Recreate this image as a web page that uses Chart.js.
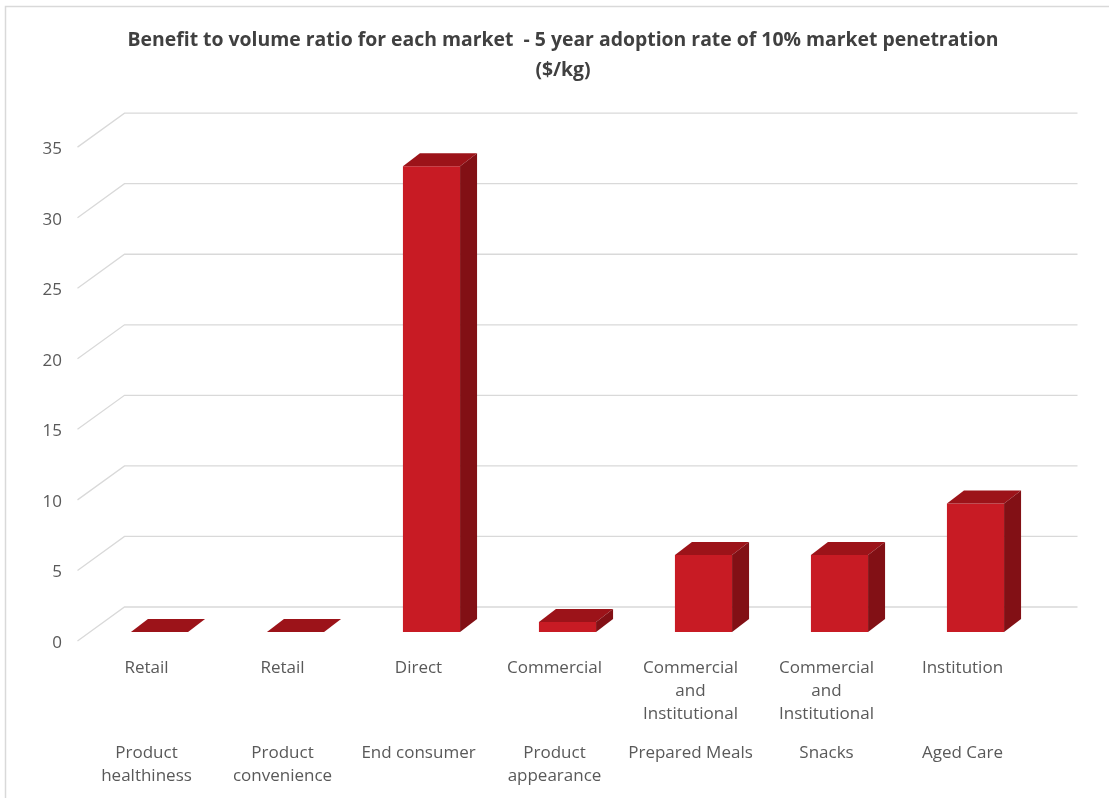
<!DOCTYPE html>
<html>
<head>
<meta charset="utf-8">
<script src="https://cdn.jsdelivr.net/npm/chart.js@4.4.1/dist/chart.umd.min.js"></script>
<style>
  html, body { margin: 0; padding: 0; background: #fff; }
  #wrap { width: 1109px; height: 798px; position: relative; }
</style>
</head>
<body>
<div id="wrap"><canvas id="chart" width="1109" height="798"></canvas></div>
<script>
// channel (first row of the category axis)
const channels = [
	["Retail"], ["Retail"], ["Direct"], ["Commercial"],
	["Commercial", "and", "Institutional"], ["Commercial", "and", "Institutional"], ["Institution"]
];
// market (second row of the category axis)
const markets = [
	["Product", "healthiness"], ["Product", "convenience"], ["End consumer"], ["Product", "appearance"],
	["Prepared Meals"], ["Snacks"], ["Aged Care"]
];
// benefit to volume ratio, $/kg
const ratios = [0, 0, 33, 0.7, 5.45, 5.45, 9.1];
const yMin = 0, yMax = 35, yStep = 5;

const titleLines = [
	"Benefit to volume ratio for each market  - 5 year adoption rate of 10% market penetration",
	"($/kg)"
];

// oblique projection offsets, relative to the bar front plane
const FRONT = { dx: -14, dy: 9 };   // front edge of floor / left wall
const BACK = { dx: 33, dy: -25 };   // back wall
const DEPTH = { dx: 17, dy: 13 };   // bar depth

const FRONT_RED = "#c81b24";
const TOP_RED = "#9c1319";
const SIDE_RED = "#821015";
const GRID = "#d9d9d9";
const TEXT = "#595959";

const wallsAndGrid = {
	id: "wallsAndGrid",
	beforeDatasetsDraw(chart) {
		const ctx = chart.ctx;
		const area = chart.chartArea;
		const y = chart.scales.y;
		ctx.save();
		ctx.strokeStyle = GRID;
		ctx.lineWidth = 1.3;
		y.ticks.forEach((t) => {
			const py = y.getPixelForValue(t.value);
			ctx.beginPath();
			ctx.moveTo(area.left + FRONT.dx, py + FRONT.dy);
			ctx.lineTo(area.left + BACK.dx, py + BACK.dy);
			ctx.lineTo(area.right + BACK.dx + 1, py + BACK.dy);
			ctx.stroke();
		});
		ctx.restore();
	},
	afterDatasetsDraw(chart) {
		const ctx = chart.ctx;
		const meta = chart.getDatasetMeta(0);
		ctx.save();
		meta.data.forEach((bar) => {
			const p = bar.getProps(["x", "y", "base", "width"], true);
			const l = p.x - p.width / 2, r = p.x + p.width / 2;
			// top face
			ctx.fillStyle = TOP_RED;
			ctx.beginPath();
			ctx.moveTo(l, p.y);
			ctx.lineTo(r, p.y);
			ctx.lineTo(r + DEPTH.dx, p.y - DEPTH.dy);
			ctx.lineTo(l + DEPTH.dx, p.y - DEPTH.dy);
			ctx.closePath();
			ctx.fill();
			// side face
			ctx.fillStyle = SIDE_RED;
			ctx.beginPath();
			ctx.moveTo(r, p.y);
			ctx.lineTo(r + DEPTH.dx, p.y - DEPTH.dy);
			ctx.lineTo(r + DEPTH.dx, p.base - DEPTH.dy);
			ctx.lineTo(r, p.base);
			ctx.closePath();
			ctx.fill();
		});
		ctx.restore();
	},
	afterDraw(chart) {
		// chart frame: only its left and top edges fall inside the picture
		const ctx = chart.ctx;
		ctx.save();
		ctx.strokeStyle = GRID;
		ctx.lineWidth = 1.5;
		ctx.beginPath();
		ctx.moveTo(5.5, chart.height);
		ctx.lineTo(5.5, 6.5);
		ctx.lineTo(chart.width, 6.5);
		ctx.stroke();
		ctx.restore();
	}
};

const labelFont = { family: "'Open Sans', sans-serif", size: 17, lineHeight: 1.38 };

new Chart(document.getElementById("chart"), {
	type: "bar",
	data: {
		labels: channels,
		datasets: [{
			data: ratios,
			backgroundColor: FRONT_RED,
			borderWidth: 0,
			barPercentage: 0.42,
			categoryPercentage: 1
		}]
	},
	options: {
		responsive: false,
		animation: false,
		layout: { padding: { left: 17, right: 0, top: 0, bottom: 0 } },
		plugins: {
			legend: { display: false },
			tooltip: { enabled: false },
			title: {
				display: true,
				text: titleLines,
				color: "#404040",
				font: { family: "'Open Sans', sans-serif", size: 19.4, weight: "bold", lineHeight: 1.55 },
				padding: { top: 25, bottom: 53 }
			}
		},
		scales: {
			x: {
				weight: 1,
				grid: { display: false, drawTicks: false },
				border: { display: false },
				ticks: { color: TEXT, font: labelFont, padding: 24, labelOffset: -13, maxRotation: 0, autoSkip: false },
				afterFit(s) { s.height = 100; }
			},
			x2: {
				type: "category",
				position: "bottom",
				weight: 2,
				labels: markets,
				offset: true,
				grid: { display: false, drawTicks: false },
				border: { display: false },
				ticks: { color: TEXT, font: labelFont, padding: 9, labelOffset: -13, maxRotation: 0, autoSkip: false },
				afterFit(s) { s.height = 66; }
			},
			y: {
				min: yMin,
				max: yMax,
				grid: { display: false, drawTicks: false },
				border: { display: false },
				ticks: { stepSize: yStep, color: TEXT, font: { family: "'Open Sans', sans-serif", size: 17 }, padding: 29.5, labelOffset: 11 },
				afterFit(s) { s.width = 74.5; }
			},
			yRight: {
				type: "linear",
				position: "right",
				min: yMin,
				max: yMax,
				grid: { display: false, drawTicks: false },
				border: { display: false },
				ticks: { display: false },
				afterFit(s) { s.width = 65.5; }
			}
		}
	},
	plugins: [wallsAndGrid]
});
</script>
</body>
</html>
